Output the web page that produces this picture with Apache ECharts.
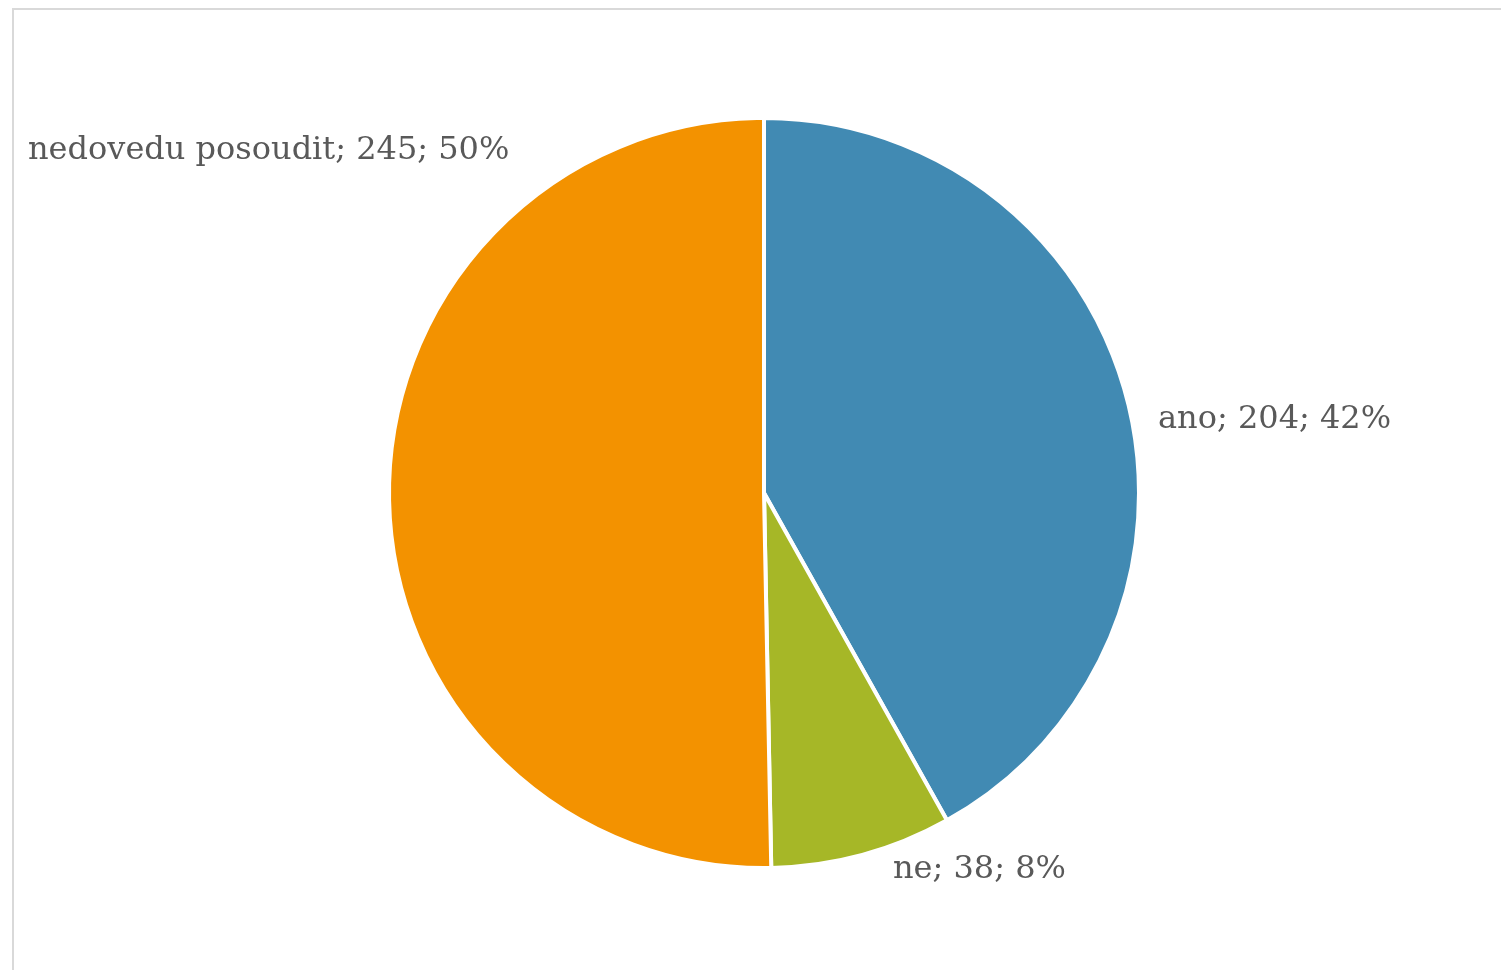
<!DOCTYPE html>
<html><head><meta charset="utf-8">
<script src="https://cdn.jsdelivr.net/npm/echarts@6/dist/echarts.min.js"></script>
<style>
html,body{margin:0;padding:0;background:#fff;}
#frame{position:absolute;left:12px;top:8px;width:1500px;height:970px;border-top:2px solid #d9d9d9;border-left:2px solid #d9d9d9;}
#c{position:absolute;left:0;top:0;width:1501px;height:970px;}
</style></head>
<body>
<div id="frame"></div>
<div id="c"></div>
<script>
const categories = ['ano', 'ne', 'nedovedu posoudit'];
const values = [204, 38, 245];
const percents = [42, 8, 50];
const colors = ['#418AB3', '#A6B727', '#F39200'];
const labelPos = [
  {x: 1158, y: 420, align: 'left'},
  {x: 893, y: 870, align: 'left'},
  {x: 28, y: 151, align: 'left'}
];
const chart = echarts.init(document.getElementById('c'), null, {renderer: 'canvas'});
chart.setOption({
  animation: false,
  backgroundColor: 'transparent',
  series: [{
    type: 'pie',
    center: [764, 493],
    radius: 375,
    startAngle: 90,
    clockwise: true,
    data: categories.map((c, i) => ({name: c, value: values[i], itemStyle: {color: colors[i]}})),
    itemStyle: {borderColor: '#fff', borderWidth: 4},
    label: {
      show: true,
      position: 'outside',
      overflow: 'none',
      width: 800,
      formatter: p => p.name + '; ' + values[p.dataIndex] + '; ' + percents[p.dataIndex] + '%',
      fontFamily: 'DejaVu Serif',
      fontSize: 32,
      color: '#595959'
    },
    labelLine: {show: false},
    labelLayout: p => ({x: labelPos[p.dataIndex].x, y: labelPos[p.dataIndex].y, align: labelPos[p.dataIndex].align, verticalAlign: 'middle'})
  }]
});
</script>
</body></html>
